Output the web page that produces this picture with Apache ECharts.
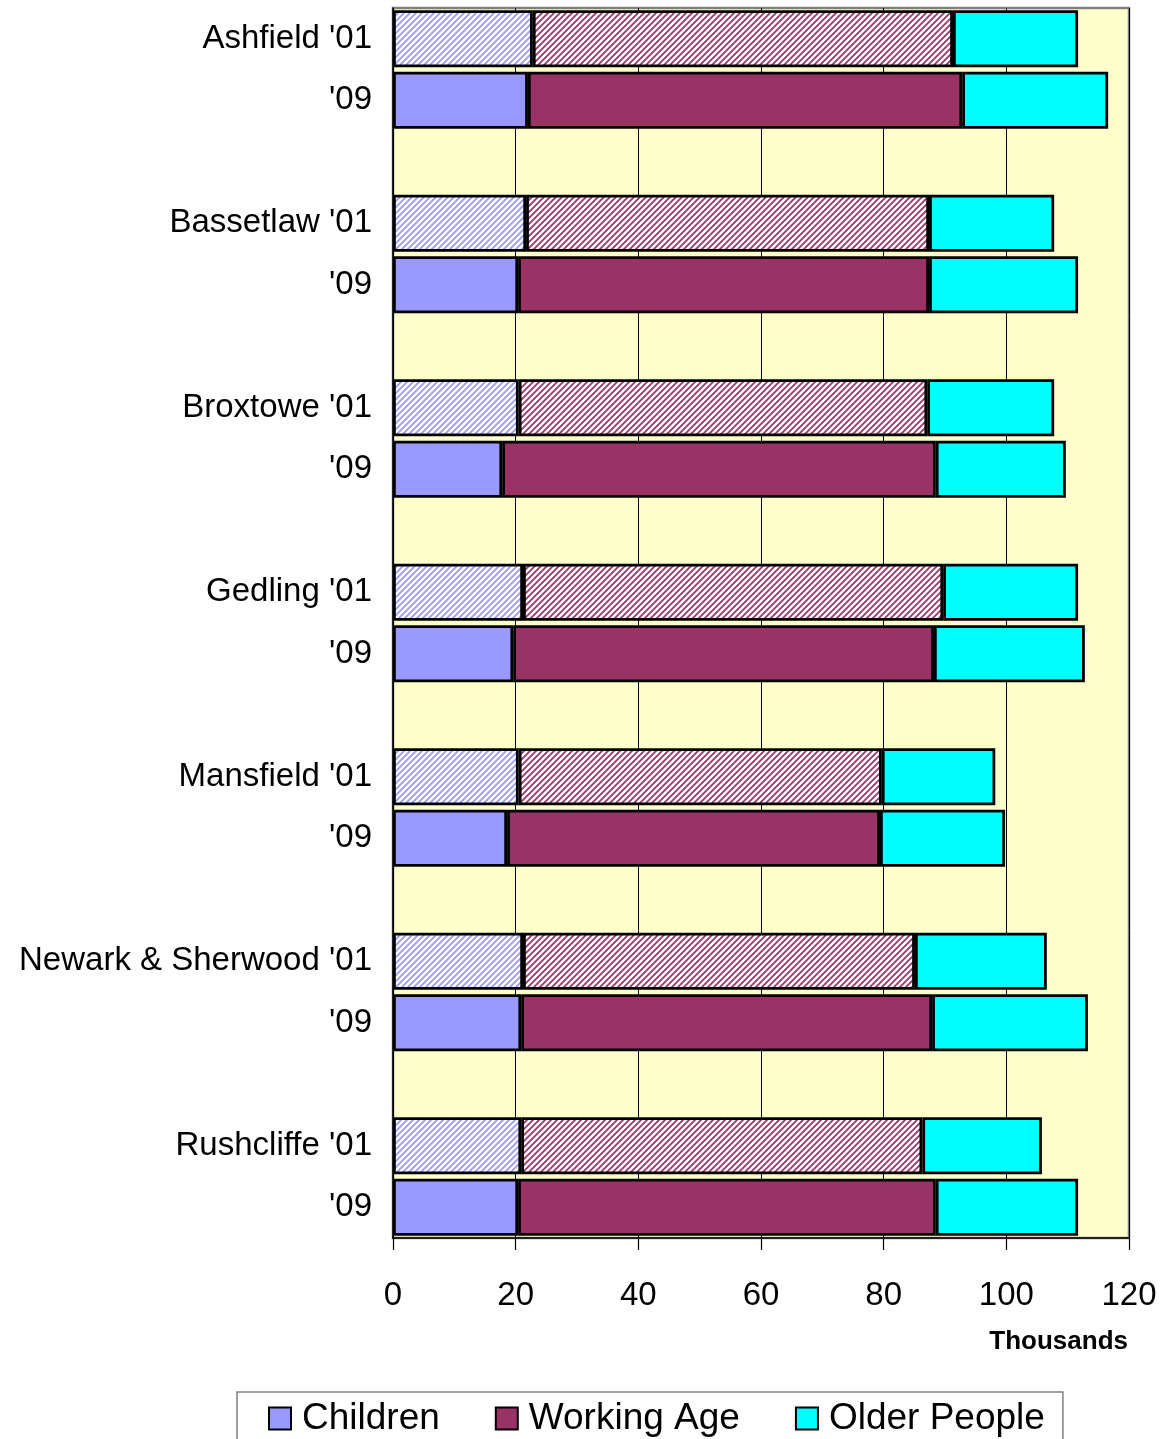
<!DOCTYPE html>
<html><head><meta charset="utf-8">
<script src="https://cdn.jsdelivr.net/npm/echarts@6/dist/echarts.min.js"></script>
<style>html,body{margin:0;padding:0;background:#fff}#c{width:1170px;height:1439px}</style>
</head><body><div id="c"></div>
<script>
const districts = ["Ashfield","Bassetlaw","Broxtowe","Gedling","Mansfield","Newark & Sherwood","Rushcliffe"];
const children01 = [22.8,21.7,20.5,21.2,20.5,21.2,20.9];
const children09 = [22.0,20.4,17.8,19.6,18.6,20.9,20.4];
const working01  = [68.5,65.7,66.6,68.5,59.2,63.9,65.4];
const working09  = [70.8,67.0,70.7,68.6,60.8,67.0,68.1];
const older01    = [20.4,20.4,20.7,22.0,18.5,21.5,19.5];
const older09    = [23.8,24.3,21.2,24.6,20.4,25.4,23.2];
const xTicks = [0,20,40,60,80,100,120];
const seriesNames = ["Children","Working Age","Older People"];
const FONT = "'Liberation Sans', Arial, sans-serif";

// slot labels: '01, '09, blank
const slotLabels = [];
districts.forEach((d,i)=>{
  slotLabels.push(d + " '01");
  slotLabels.push("'09");
  if (i < districts.length-1) slotLabels.push("");
});
const slotIds = slotLabels.map((_,i)=>"s"+i);

function hatch(base){
  const s=6, c=document.createElement('canvas'); c.width=s; c.height=s;
  const g=c.getContext('2d');
  g.fillStyle=base; g.fillRect(0,0,s,s);
  g.strokeStyle='#ffffff'; g.lineWidth=2.5;
  g.beginPath();
  g.moveTo(0,s); g.lineTo(s,0);
  g.moveTo(-s,s); g.lineTo(s,-s);
  g.moveTo(0,2*s); g.lineTo(2*s,0);
  g.stroke();
  return {image:c, repeat:'repeat'};
}

function mk(name, color, v01, v09, hatched){
  const data=[];
  districts.forEach((d,i)=>{
    if (hatched) data.push({value:v01[i], itemStyle:{color:hatch(color)}});
    else data.push(v01[i]);
    data.push(v09[i]);
    if (i < districts.length-1) data.push('-');
  });
  return {name, type:'bar', stack:'t', barWidth:57, data,
    itemStyle:{color, borderColor:'#000', borderWidth:2.8},
    emphasis:{disabled:true}};
}

const chart = echarts.init(document.getElementById('c'), null, {renderer:'canvas'});
chart.setOption({
  animation:false,
  backgroundColor:'#ffffff',
  grid:{left:393, right:41, top:8, bottom:201, show:true, backgroundColor:'#FFFFCC', borderColor:'#808080', borderWidth:2.5},
  xAxis:{type:'value', min:xTicks[0], max:xTicks[xTicks.length-1], interval:20,
    axisLine:{show:true, lineStyle:{color:'#000', width:1.5}},
    axisTick:{show:true, length:12, lineStyle:{color:'#000', width:1.2}},
    axisLabel:{fontSize:33, fontFamily:FONT, color:'#000', margin:41},
    splitLine:{show:true, lineStyle:{color:'#000', width:1}}},
  yAxis:{type:'category', inverse:true, data:slotIds,
    axisLine:{show:true, lineStyle:{color:'#000', width:1.5}},
    axisTick:{show:false},
    axisLabel:{fontSize:33, fontFamily:FONT, color:'#000', margin:21, interval:0,
      formatter:(v,i)=>slotLabels[i]}},
  legend:{left:237, top:1392, padding:[8,18,6,31], itemGap:55, itemWidth:22, itemHeight:22,
    borderColor:'#808080', borderWidth:1.5, selectedMode:false, icon:'rect',
    data:seriesNames,
    itemStyle:{borderWidth:2},
    textStyle:{fontSize:37, fontFamily:FONT, color:'#000', padding:[0,0,0,6]}},
  graphic:[{type:'text', right:42, top:1329, style:{text:'Thousands', font:"bold 26px 'Liberation Sans', Arial, sans-serif", fill:'#000'}}],
  series:[
    mk(seriesNames[0], '#9999FF', children01, children09, true),
    mk(seriesNames[1], '#993366', working01, working09, true),
    mk(seriesNames[2], '#00FFFF', older01, older09, false)
  ]
});
</script></body></html>
